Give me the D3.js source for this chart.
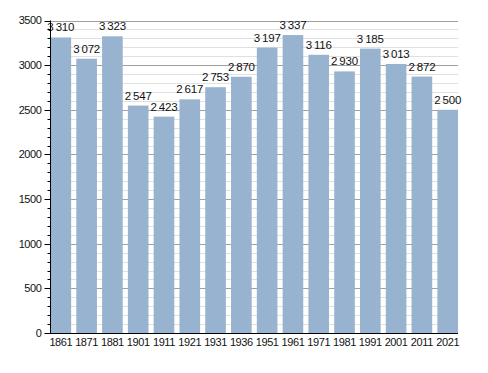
<!DOCTYPE html>
<html><head><meta charset="utf-8">
<script src="https://cdn.jsdelivr.net/npm/d3@7"></script>
<style>body{margin:0;background:#fff}svg{display:block}text{font-family:"Liberation Sans",Arial,sans-serif;letter-spacing:-0.4px}text.val{letter-spacing:-0.2px}</style>
</head><body>
<script>
const years = ["1861","1871","1881","1901","1911","1921","1931","1936","1951","1961","1971","1981","1991","2001","2011","2021"];
const population = [3310,3072,3323,2547,2423,2617,2753,2870,3197,3337,3116,2930,3185,3013,2872,2500];
const majorTicks = [0,500,1000,1500,2000,2500,3000,3500];

const W=488,H=373;
const svg=d3.select("body").append("svg").attr("width",W).attr("height",H);
const x=d3.scaleBand().domain(years).range([50.5,458]).paddingInner(0.2).paddingOuter(0);
const y=d3.scaleLinear().domain([0,3500]).range([333,20.5]);
const minor=d3.range(0,3501,100);

// grid
svg.append("g").selectAll("line").data(minor.filter(v=>v%500!==0)).join("line")
 .attr("x1",50.5).attr("x2",458).attr("y1",d=>Math.round(y(d))+0.5).attr("y2",d=>Math.round(y(d))+0.5)
 .attr("stroke","#e0e0e0").attr("stroke-width",1);
svg.append("g").selectAll("line").data(majorTicks.filter(v=>v>0)).join("line")
 .attr("x1",50.5).attr("x2",458).attr("y1",d=>Math.round(y(d))+0.5).attr("y2",d=>Math.round(y(d))+0.5)
 .attr("stroke","#a0a0a0").attr("stroke-width",1);

// bars
svg.append("g").selectAll("rect").data(population).join("rect")
 .attr("x",(d,i)=>x(years[i])).attr("width",x.bandwidth())
 .attr("y",d=>y(d)).attr("height",d=>y(0)-y(d)).attr("fill","#98b3cf");

// value labels
const fmt=d3.formatLocale({decimal:",",thousands:"\u2009",grouping:[3]}).format(",");
svg.append("g").selectAll("text").data(population).join("text").attr("class","val")
 .attr("x",(d,i)=>x(years[i])+x.bandwidth()/2).attr("y",d=>y(d)-6)
 .attr("text-anchor","middle").attr("font-size",11.5).attr("fill","#111")
 .text(d=>fmt(d));

// y axis
const ya=svg.append("g").attr("transform","translate(50.5,0)");
ya.append("line").attr("x1",0).attr("x2",0).attr("y1",y(3500)).attr("y2",y(0)).attr("stroke","#000");
ya.selectAll("line.mi").data(minor).join("line").attr("class","mi")
 .attr("x1",d=>d%500===0?-6:-3).attr("x2",0)
 .attr("y1",d=>Math.round(y(d))+0.5).attr("y2",d=>Math.round(y(d))+0.5).attr("stroke","#000");
ya.selectAll("text").data(majorTicks).join("text")
 .attr("x",-9).attr("y",d=>y(d)).attr("dy","0.35em").attr("text-anchor","end")
 .attr("font-size",11).attr("fill","#111").text(d=>d);

// x axis
svg.append("line").attr("x1",50).attr("x2",458).attr("y1",333.5).attr("y2",333.5).attr("stroke","#000");
svg.append("g").selectAll("text").data(years).join("text")
 .attr("x",d=>x(d)+x.bandwidth()/2).attr("y",346).attr("text-anchor","middle")
 .attr("font-size",11).attr("fill","#111").text(d=>d);
</script>
</body></html>
